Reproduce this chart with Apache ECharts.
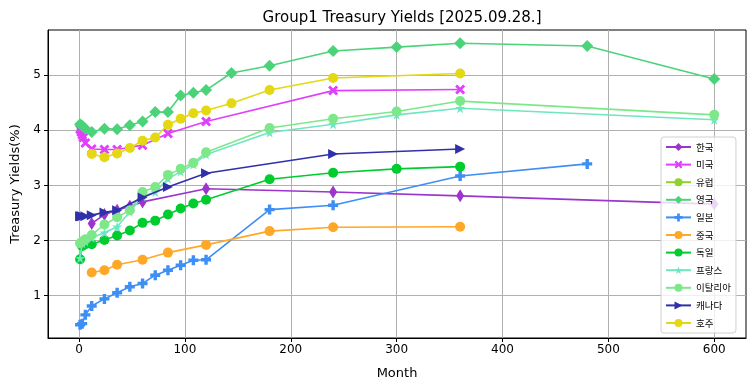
<!DOCTYPE html>
<html><head><meta charset="utf-8">
<script src="https://cdn.jsdelivr.net/npm/echarts@6/dist/echarts.min.js"></script>
<style>html,body{margin:0;padding:0;background:#fff}#c{width:755px;height:391px}</style>
</head><body><div id="c"></div>
<script>
// ---- data (months, yields %) ----
const names = ['한국','미국','유럽','영국','일본','중국','독일','프랑스','이탈리아','캐나다','호주'];
const krM = [12, 24, 36, 48, 60, 120, 240, 360, 600];
const krY = [2.31, 2.47, 2.55, 2.62, 2.70, 2.94, 2.88, 2.81, 2.66];
const usM = [1, 2, 3, 4, 6, 12, 24, 36, 60, 84, 120, 240, 360];
const usY = [4.02, 3.97, 3.92, 3.87, 3.77, 3.66, 3.65, 3.65, 3.73, 3.94, 4.16, 4.72, 4.74];
const euM = [];
const euY = [];
const ukM = [1, 3, 6, 12, 24, 36, 48, 60, 72, 84, 96, 108, 120, 144, 180, 240, 300, 360, 480, 600];
const ukY = [4.11, 4.08, 4.03, 3.97, 4.03, 4.02, 4.09, 4.16, 4.33, 4.33, 4.63, 4.68, 4.73, 5.04, 5.17, 5.44, 5.51, 5.58, 5.53, 4.93];
const jpM = [1, 3, 6, 12, 24, 36, 48, 60, 72, 84, 96, 108, 120, 180, 240, 360, 480];
const jpY = [0.47, 0.49, 0.65, 0.81, 0.94, 1.05, 1.16, 1.22, 1.37, 1.46, 1.55, 1.64, 1.65, 2.56, 2.64, 3.17, 3.39];
const cnM = [12, 24, 36, 60, 84, 120, 180, 240, 360];
const cnY = [1.42, 1.46, 1.56, 1.65, 1.78, 1.92, 2.17, 2.24, 2.25];
const deM = [1, 3, 6, 12, 24, 36, 48, 60, 72, 84, 96, 108, 120, 180, 240, 300, 360];
const deY = [1.66, 1.90, 1.93, 1.93, 2.01, 2.09, 2.18, 2.32, 2.36, 2.47, 2.58, 2.67, 2.74, 3.11, 3.23, 3.30, 3.34];
const frM = [1, 3, 6, 12, 24, 36, 48, 60, 72, 84, 96, 108, 120, 180, 240, 300, 360, 600];
const frY = [1.68, 1.95, 1.98, 2.05, 2.14, 2.25, 2.52, 2.80, 2.88, 3.12, 3.25, 3.38, 3.56, 3.96, 4.11, 4.28, 4.40, 4.19];
const itM = [1, 3, 6, 12, 24, 36, 48, 60, 72, 84, 96, 108, 120, 180, 240, 300, 360, 600];
const itY = [1.95, 1.98, 2.02, 2.10, 2.29, 2.42, 2.55, 2.88, 2.97, 3.19, 3.30, 3.41, 3.60, 4.04, 4.21, 4.34, 4.53, 4.28];
const caM = [1, 2, 3, 6, 12, 24, 36, 60, 84, 120, 240, 360];
const caY = [2.44, 2.44, 2.44, 2.44, 2.46, 2.51, 2.55, 2.78, 2.97, 3.22, 3.57, 3.66];
const auM = [12, 24, 36, 48, 60, 72, 84, 96, 108, 120, 144, 180, 240, 360];
const auY = [3.57, 3.51, 3.58, 3.68, 3.81, 3.87, 4.10, 4.21, 4.31, 4.36, 4.49, 4.73, 4.95, 5.03];
const xTicks = [0, 100, 200, 300, 400, 500, 600];
const yTicks = [1, 2, 3, 4, 5];

// ---- styles ----
const X_PATH = 'path://M2,0 L5,3 L8,0 L10,2 L7,5 L10,8 L8,10 L5,7 L2,10 L0,8 L3,5 L0,2 Z';
const PLUS_PATH = 'path://M3.3,0 H6.7 V3.3 H10 V6.7 H6.7 V10 H3.3 V6.7 H0 V3.3 H3.3 Z';
const STAR_PATH = 'path://M50,0 L61,35 L98,35 L68,57 L79,91 L50,70 L21,91 L32,57 L2,35 L39,35 Z';
const TRI_R = 'path://M0,0 L10,5 L0,10 Z';
const styles = [
  {c:'#9b35cc', s:'diamond', z:[8,13]},
  {c:'#e040fb', s:X_PATH, z:[10,10]},
  {c:'#8fd22a', s:'circle', z:10},
  {c:'#4bd37a', s:'diamond', z:[12,12]},
  {c:'#3d8ef5', s:PLUS_PATH, z:[10,10]},
  {c:'#ffa726', s:'circle', z:10},
  {c:'#00cc2e', s:'circle', z:10},
  {c:'#6ee6c2', s:STAR_PATH, z:[10,10]},
  {c:'#7de88a', s:'circle', z:10},
  {c:'#3030aa', s:TRI_R, z:[10,10]},
  {c:'#e3d812', s:'circle', z:10}
];
const allM = [krM, usM, euM, ukM, jpM, cnM, deM, frM, itM, caM, auM];
const allY = [krY, usY, euY, ukY, jpY, cnY, deY, frY, itY, caY, auY];

const series = names.map((n, i) => ({
  name: n, type: 'line',
  data: allM[i].map((m, k) => [m, allY[i][k]]),
  symbol: styles[i].s, symbolSize: styles[i].z, showSymbol: true,
  itemStyle: {color: styles[i].c},
  lineStyle: {color: styles[i].c, width: 1.6},
  z: 2 + i, animation: false
}));

const FONT = 'DejaVu Sans, Noto Sans CJK KR, sans-serif';
const chart = echarts.init(document.getElementById('c'), null, {renderer: 'canvas'});
chart.setOption({
  backgroundColor: '#fff',
  animation: false,
  textStyle: {fontFamily: FONT},
  title: {text: 'Group1 Treasury Yields [2025.09.28.]', left: 397, top: 6, textAlign: 'center',
    textStyle: {fontSize: 15, fontWeight: 'normal', color: '#000', fontFamily: FONT}},
  grid: {left: 48, right: 9, top: 30, bottom: 53, show: true, borderColor: '#000', borderWidth: 1, backgroundColor: 'transparent'},
  legend: {
    orient: 'vertical', left: 661, top: 137, padding: [5, 5, 5, 4],
    itemWidth: 25, itemHeight: 10, itemGap: 7.6,
    backgroundColor: 'rgba(255,255,255,0.8)', borderColor: '#d0d0d0', borderWidth: 1, borderRadius: 3,
    textStyle: {fontSize: 9.5, color: '#000', fontFamily: 'Noto Sans CJK KR, sans-serif', lineHeight: 10},
    data: names
  },
  xAxis: {
    type: 'value', min: -29.3, max: 630,
    name: 'Month', nameLocation: 'middle', nameGap: 29,
    nameTextStyle: {fontSize: 13, color: '#000', fontFamily: FONT},
    axisLine: {show: true, onZero: false, lineStyle: {color: '#000', width: 1}},
    axisTick: {show: true, length: 4, lineStyle: {color: '#000'}, customValues: xTicks},
    axisLabel: {fontSize: 12, color: '#000', margin: 6, customValues: xTicks, fontFamily: FONT},
    splitLine: {show: true, lineStyle: {color: '#b0b0b0', width: 1}}
  },
  yAxis: {
    type: 'value', min: 0.23, max: 5.82,
    name: 'Treasury Yields(%)', nameLocation: 'middle', nameGap: 26, nameRotate: 90,
    nameTextStyle: {fontSize: 13, color: '#000', fontFamily: FONT},
    axisLine: {show: true, onZero: false, lineStyle: {color: '#000', width: 1}},
    axisTick: {show: true, length: 4, lineStyle: {color: '#000'}, customValues: yTicks},
    axisLabel: {fontSize: 12, color: '#000', margin: 7, customValues: yTicks, fontFamily: FONT},
    splitLine: {show: true, lineStyle: {color: '#b0b0b0', width: 1}}
  },
  series: series
});
</script></body></html>
